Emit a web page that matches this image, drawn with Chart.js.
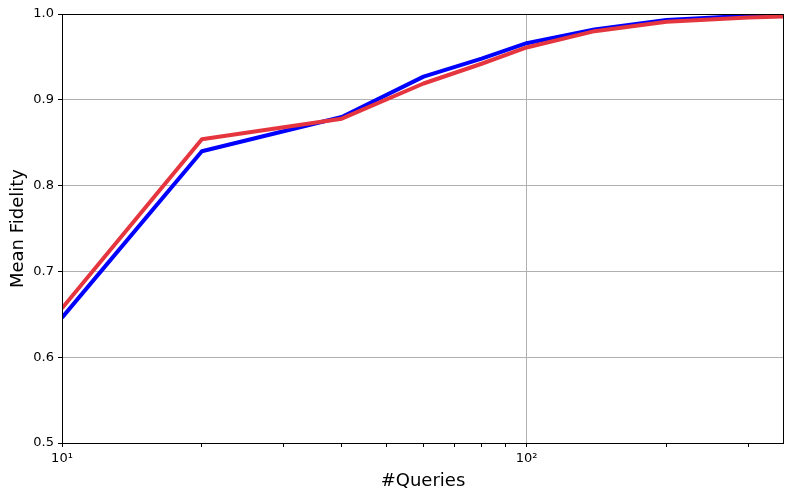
<!DOCTYPE html>
<html>
<head>
<meta charset="utf-8">
<script src="https://cdn.jsdelivr.net/npm/chart.js@4"></script>
<style>
  html, body { margin: 0; padding: 0; background: #fff; }
  #wrap { width: 793px; height: 500px; }
</style>
</head>
<body>
<div id="wrap"><canvas id="chart" width="793" height="500"></canvas></div>
<script>
// --- Data ---
const queries = [10, 20, 40, 60, 80, 100, 140, 200, 300, 358];
const blueFidelity = [0.646, 0.840, 0.880, 0.927, 0.948, 0.966, 0.982, 0.993, 0.998, 0.999];
const redFidelity = [0.657, 0.854, 0.878, 0.919, 0.942, 0.961, 0.980, 0.991, 0.996, 0.997];
const xTicks = [10, 20, 30, 40, 50, 60, 70, 80, 90, 100, 200, 300];
const xLabels = { 10: '10¹', 100: '10²' };
const yTicks = [0.5, 0.6, 0.7, 0.8, 0.9, 1.0];

const font = 'DejaVu Sans';
const toPoints = ys => queries.map((q, i) => ({ x: q, y: ys[i] }));

// frame around the plot area
const frame = {
  id: 'frame',
  afterDraw(chart) {
    const { ctx, chartArea: a } = chart;
    ctx.save();
    ctx.strokeStyle = '#000';
    ctx.lineWidth = 1;
    ctx.strokeRect(a.left + 0.5, a.top + 0.5, a.right - a.left - 1, a.bottom - a.top);
    ctx.restore();
  }
};

new Chart(document.getElementById('chart'), {
  type: 'line',
  data: {
    datasets: [
      { data: toPoints(blueFidelity), borderColor: '#0000ff', borderWidth: 4, order: 1 },
      { data: toPoints(redFidelity), borderColor: '#e5353f', borderWidth: 4, order: 0 }
    ]
  },
  options: {
    responsive: false,
    animation: false,
    layout: { padding: { top: 14, right: 9, left: 0, bottom: 0 } },
    elements: {
      point: { radius: 0 },
      line: { tension: 0, borderJoinStyle: 'round', fill: false }
    },
    plugins: { legend: { display: false }, tooltip: { enabled: false } },
    scales: {
      x: {
        type: 'logarithmic',
        min: 10,
        max: 358,
        afterBuildTicks: s => { s.ticks = xTicks.map(v => ({ value: v })); },
        afterFit: s => { s.height = 57; },
        border: { display: false },
        grid: {
          color: c => (c.tick && c.tick.value === 100 ? '#b0b0b0' : 'rgba(0,0,0,0)'),
          lineWidth: 1,
          tickColor: '#000',
          tickLength: 4,
          drawOnChartArea: true
        },
        ticks: {
          autoSkip: false,
          maxRotation: 0,
          padding: 4,
          color: '#000',
          font: { family: font, size: 13 },
          callback: v => xLabels[v] || ''
        },
        title: {
          display: true,
          text: '#Queries',
          color: '#000',
          font: { family: font, size: 18 },
          padding: { top: 0, bottom: 8 }
        }
      },
      y: {
        min: 0.5,
        max: 1.0,
        afterBuildTicks: s => { s.ticks = yTicks.map(v => ({ value: v })); },
        afterFit: s => { s.width = 62; },
        border: { display: false },
        grid: {
          color: c => (c.tick && c.tick.value > 0.5 && c.tick.value < 1 ? '#b0b0b0' : 'rgba(0,0,0,0)'),
          lineWidth: 1,
          tickColor: '#000',
          tickLength: 4
        },
        ticks: {
          padding: 4,
          color: '#000',
          font: { family: font, size: 13 },
          callback: v => v.toFixed(1)
        },
        title: {
          display: true,
          text: 'Mean Fidelity',
          color: '#000',
          font: { family: font, size: 18 },
          padding: { top: 8, bottom: 0 }
        }
      }
    }
  },
  plugins: [frame]
});
</script>
</body>
</html>
